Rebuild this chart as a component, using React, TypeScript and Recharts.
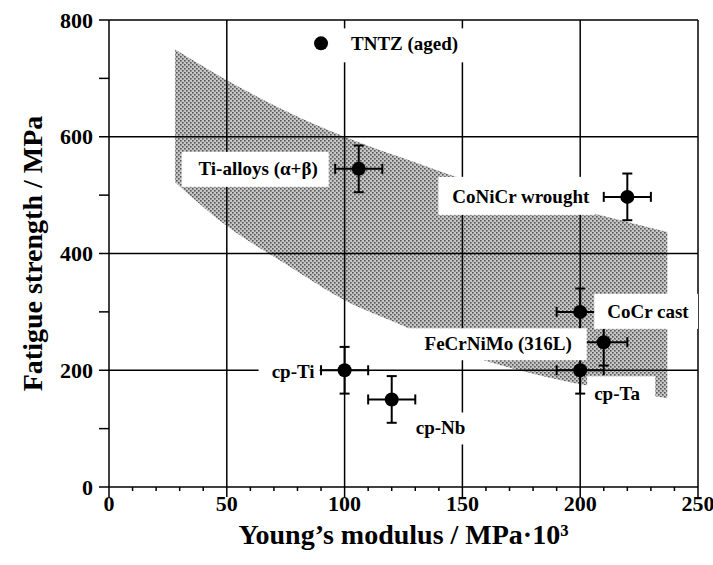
import React from 'react'
import {
  ComposedChart,
  Area,
  Scatter,
  ErrorBar,
  XAxis,
  YAxis,
  ReferenceLine,
} from 'recharts'

// materials with error bars
const materials = ['Ti-alloys (α+β)', 'CoNiCr wrought', 'CoCr cast', 'FeCrNiMo (316L)', 'cp-Ti', 'cp-Nb', 'cp-Ta']
const modulus = [106, 220, 200, 210, 100, 120, 200]
const fatigue = [545, 497, 300, 248, 200, 150, 200]
const modulusErr = [10, 10, 10, 10, 10, 10, 10]
const fatigueErr = [40, 40, 40, 40, 40, 40, 40]

// TNTZ shown alone, no error bars
const tntzName = 'TNTZ (aged)'
const tntzModulus = 90
const tntzFatigue = 760

// shaded band (upper / lower edge)
const bandModulus = [28, 50, 75, 100, 125, 150, 175, 200, 220, 237]
const bandUpper = [750, 697, 644, 600, 563, 528, 500, 474, 454, 437]
const bandLower = [522, 447, 382, 320, 276, 230, 199, 176, 163, 152]

const xTicks = [0, 10, 20, 30, 40, 50, 60, 70, 80, 90, 100, 110, 120, 130, 140, 150, 160, 170, 180, 190, 200, 210, 220, 230, 240, 250]
const yTicks = [0, 100, 200, 300, 400, 500, 600, 700, 800]
const xGrid = [50, 100, 150, 200]
const yGrid = [200, 400, 600]

const bandData = bandModulus.map((x, i) => ({ x, range: [bandLower[i], bandUpper[i]] }))
const points = materials.map((name, i) => ({
  name,
  x: modulus[i],
  y: fatigue[i],
  ex: modulusErr[i],
  ey: fatigueErr[i],
}))
const tntz = [{ name: tntzName, x: tntzModulus, y: tntzFatigue }]

const FONT = '"Liberation Serif", "Times New Roman", serif'

// label placement relative to the point, in px
const labelLayout: Record<string, { tx: number; ty: number; anchor: 'start' | 'end'; box: [number, number, number, number] }> = {
  'TNTZ (aged)': { tx: 30, ty: 0, anchor: 'start', box: [14, -15, 142, 34] },
  'Ti-alloys (α+β)': { tx: -41, ty: 0, anchor: 'end', box: [-177, -17, 147, 35] },
  'CoNiCr wrought': { tx: -38, ty: 0, anchor: 'end', box: [-189, -20, 157, 38] },
  'CoCr cast': { tx: 27, ty: 0, anchor: 'start', box: [14, -18, 125, 35] },
  'FeCrNiMo (316L)': { tx: -32, ty: 1, anchor: 'end', box: [-197, -14, 180, 32] },
  'cp-Ti': { tx: -30, ty: 1, anchor: 'end', box: [-86, -15, 61, 32] },
  'cp-Nb': { tx: 24, ty: 28, anchor: 'start', box: [16, 13, 65, 32] },
  'cp-Ta': { tx: 14, ty: 23, anchor: 'start', box: [7, 6, 68, 34] },
}

const LabelBox = (props: any) => {
  const { cx, cy, payload } = props
  const l = labelLayout[payload.name]
  if (!l) return null
  return (
    <g>
      <rect x={cx + l.box[0]} y={cy + l.box[1]} width={l.box[2]} height={l.box[3]} fill="#fff" />
      <text
        x={cx + l.tx}
        y={cy + l.ty}
        textAnchor={l.anchor}
        dominantBaseline="central"
        fontFamily={FONT}
        fontWeight="bold"
        fontSize={19}
        fill="#000"
      >
        {payload.name}
      </text>
    </g>
  )
}

const Dot = (props: any) => <circle cx={props.cx} cy={props.cy} r={7} fill="#000" />

const XTick = (props: any) => {
  const { x, y, payload } = props
  const major = payload.value % 50 === 0
  return (
    <g>
      <line x1={x} y1={y} x2={x} y2={y + (major ? 10 : 4)} stroke="#000" strokeWidth={1.5} />
      {major && (
        <text x={x} y={y + 24} textAnchor="middle" fontFamily={FONT} fontWeight="bold" fontSize={22} fill="#000">
          {payload.value}
        </text>
      )}
    </g>
  )
}

const YTick = (props: any) => {
  const { x, y, payload } = props
  const major = payload.value % 200 === 0
  return (
    <g>
      <line x1={x} y1={y} x2={x - 10} y2={y} stroke="#000" strokeWidth={1.5} />
      {major && (
        <text x={x - 16} y={y} textAnchor="end" dominantBaseline="central" fontFamily={FONT} fontWeight="bold" fontSize={22} fill="#000">
          {payload.value}
        </text>
      )}
    </g>
  )
}

export default function App() {
  return (
    <div style={{ position: 'absolute', left: 0, top: 0, width: 713, height: 565, background: '#fff' }}>
      <ComposedChart width={713} height={565} data={bandData} margin={{ top: 20, right: 15, left: 0, bottom: 0 }}>
        <defs>
          <pattern id="stipple" width="4" height="4" patternUnits="userSpaceOnUse">
            <rect width="4" height="4" fill="#c6c6c6" />
            <rect x="0" y="0" width="1.6" height="1.6" fill="#555" />
            <rect x="2" y="2" width="1.6" height="1.6" fill="#555" />
          </pattern>
        </defs>
        <XAxis
          dataKey="x"
          type="number"
          domain={[0, 250]}
          ticks={xTicks}
          interval={0}
          height={78}
          tickSize={0}
          tickMargin={0}
          tickLine={false}
          tick={<XTick />}
          axisLine={{ stroke: '#000', strokeWidth: 1.5 }}
          allowDataOverflow
          label={{
            content: ({ viewBox }: any) => (
              <text
                x={viewBox.x + viewBox.width / 2}
                y={viewBox.y + 57}
                textAnchor="middle"
                fontFamily={FONT}
                fontWeight="bold"
                fontSize={28}
                fill="#000"
              >
                Young’s modulus / MPa·10³
              </text>
            ),
          }}
        />
        <YAxis
          dataKey="y"
          type="number"
          domain={[0, 800]}
          ticks={yTicks}
          interval={0}
          width={109}
          tickSize={0}
          tickMargin={0}
          tickLine={false}
          tick={<YTick />}
          axisLine={{ stroke: '#000', strokeWidth: 1.5 }}
          allowDataOverflow
          label={{
            content: ({ viewBox }: any) => {
              const cx = viewBox.x + 32
              const cy = viewBox.y + viewBox.height / 2
              return (
                <text
                  x={cx}
                  y={cy}
                  transform={`rotate(-90 ${cx} ${cy})`}
                  textAnchor="middle"
                  dominantBaseline="central"
                  fontFamily={FONT}
                  fontWeight="bold"
                  fontSize={28}
                  fill="#000"
                >
                  Fatigue strength / MPa
                </text>
              )
            },
          }}
        />
        <Area
          dataKey="range"
          type="monotone"
          stroke="none"
          fill="url(#stipple)"
          fillOpacity={1}
          isAnimationActive={false}
          dot={false}
          activeDot={false}
        />
        {xGrid.map((v) => (
          <ReferenceLine key={'x' + v} x={v} stroke="#000" strokeWidth={1.5} />
        ))}
        {yGrid.map((v) => (
          <ReferenceLine key={'y' + v} y={v} stroke="#000" strokeWidth={1.5} />
        ))}
        <ReferenceLine x={250} stroke="#000" strokeWidth={1.5} />
        <ReferenceLine y={800} stroke="#000" strokeWidth={1.5} />
        <Scatter data={[...points, ...tntz]} shape={<LabelBox />} isAnimationActive={false} />
        <Scatter data={points} shape={<Dot />} isAnimationActive={false}>
          <ErrorBar dataKey="ex" direction="x" width={5} stroke="#000" strokeWidth={2} />
          <ErrorBar dataKey="ey" direction="y" width={5} stroke="#000" strokeWidth={2} />
        </Scatter>
        <Scatter data={tntz} shape={<Dot />} isAnimationActive={false} />
      </ComposedChart>
    </div>
  )
}
